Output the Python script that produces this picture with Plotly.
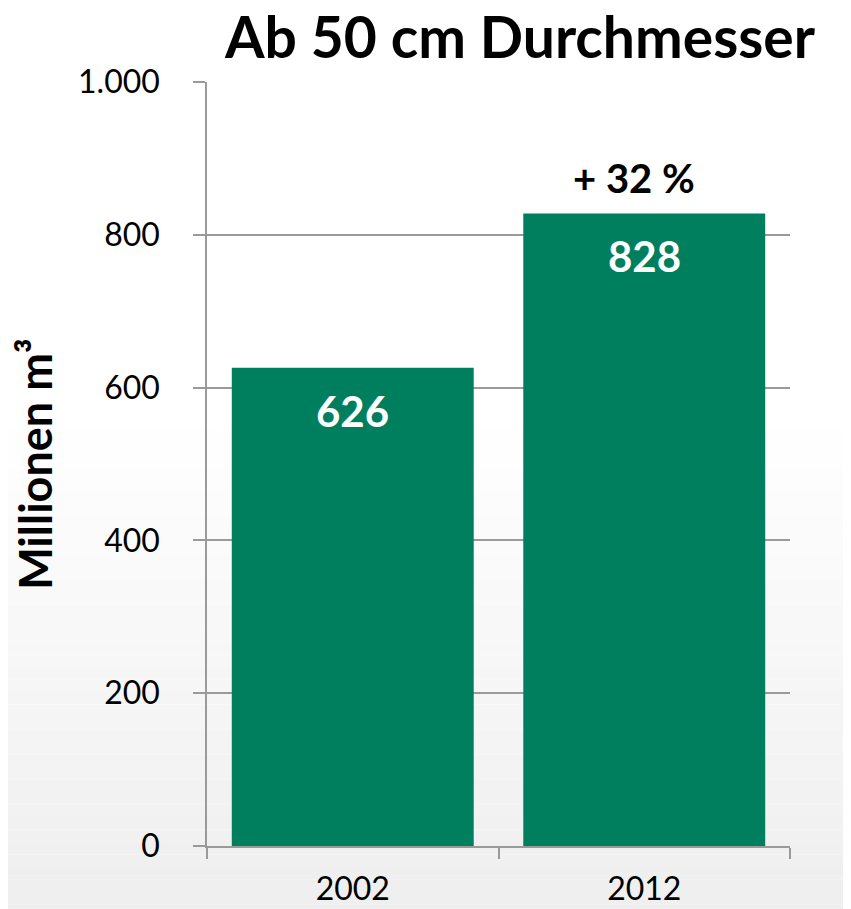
import plotly.graph_objects as go

# data
years = ["2002", "2012"]
volumes = [626, 828]
y_ticks = [0, 200, 400, 600, 800, 1000]

title = "Ab 50 cm Durchmesser"
y_title = "Millionen m³"
bar_color = "#007F5F"
axis_grey = "#9a9a9a"
font_family = "Lato, 'Open Sans', sans-serif"

change_pct = round((volumes[1] / volumes[0] - 1) * 100)

fig = go.Figure(go.Bar(
    x=years,
    y=volumes,
    marker=dict(color=bar_color, line=dict(width=0)),
    hoverinfo="x+y",
))

# value labels inside bar tops (category index as x, year strings look numeric)
for i, v in enumerate(volumes):
    fig.add_annotation(
        x=i, y=v, text=f"<b>{v}</b>", showarrow=False,
        yanchor="middle", yshift=-43,
        font=dict(family=font_family, size=42, color="white"),
    )

fig.add_annotation(
    x=len(volumes) - 1, y=volumes[-1], text=f"<b>+ {change_pct} %</b>", showarrow=False,
    yanchor="middle", yshift=35, xshift=-10,
    font=dict(family=font_family, size=40, color="black"),
)

# page body adds 8px offset, so the figure is a bit smaller than the window
OFF = 8
W, H = 851 - OFF, 909 - OFF
L, R, T, B = 207 - OFF, 61, 82 - OFF, 63
pw, ph = W - L - R, H - T - B

# soft grey gradient in the lower part of the page, drawn as thin bands
n_bands = 40
top_frac = 0.45
for i in range(n_bands):
    f0 = top_frac + (1 - top_frac) * i / n_bands
    f1 = top_frac + (1 - top_frac) * (i + 1) / n_bands
    g = round(255 - 17 * (i + 0.5) / n_bands)
    fig.add_shape(
        type="rect", xref="paper", yref="paper", layer="below",
        x0=-L / pw, x1=1 + (R + OFF) / pw,
        y0=1 + T / ph - f1 * (H + OFF) / ph, y1=1 + T / ph - f0 * (H + OFF) / ph,
        fillcolor=f"rgb({g},{g},{g})", line=dict(width=0),
    )

fig.update_layout(
    width=W, height=H,
    margin=dict(l=L, r=R, t=T, b=B, autoexpand=False),
    paper_bgcolor="white",
    plot_bgcolor="rgba(0,0,0,0)",
    separators=",.",
    showlegend=False,
    title=dict(
        text=f"<b>{title}</b>", x=(520 - OFF) / W, xanchor="center",
        y=1 - (38 - OFF) / H, yanchor="middle",
        font=dict(family=font_family, size=57, color="black"),
    ),
    font=dict(family=font_family, color="black"),
    bargap=0.17,
)

fig.update_yaxes(
    range=[0, 1000], tickvals=y_ticks, tickformat=",d",
    showgrid=True, gridcolor=axis_grey, gridwidth=1.5,
    showline=True, linecolor=axis_grey, linewidth=1.5,
    ticks="outside", ticklen=12, tickcolor=axis_grey, tickwidth=1.5,
    ticklabelstandoff=27,
    tickfont=dict(family=font_family, size=32),
    zeroline=False, automargin=False,
    title=dict(text=f"<b>{y_title}</b>", standoff=24,
               font=dict(family=font_family, size=45)),
)

fig.update_xaxes(
    type="category", categoryorder="array", categoryarray=years,
    range=[-0.5, len(years) - 0.5],
    showline=True, linecolor=axis_grey, linewidth=1.5,
    ticks="outside", tickson="boundaries", ticklen=11,
    tickcolor=axis_grey, tickwidth=1.5,
    ticklabelstandoff=14,
    tickfont=dict(family=font_family, size=32),
    showgrid=False, automargin=False,
)

fig.write_html("out.html")
